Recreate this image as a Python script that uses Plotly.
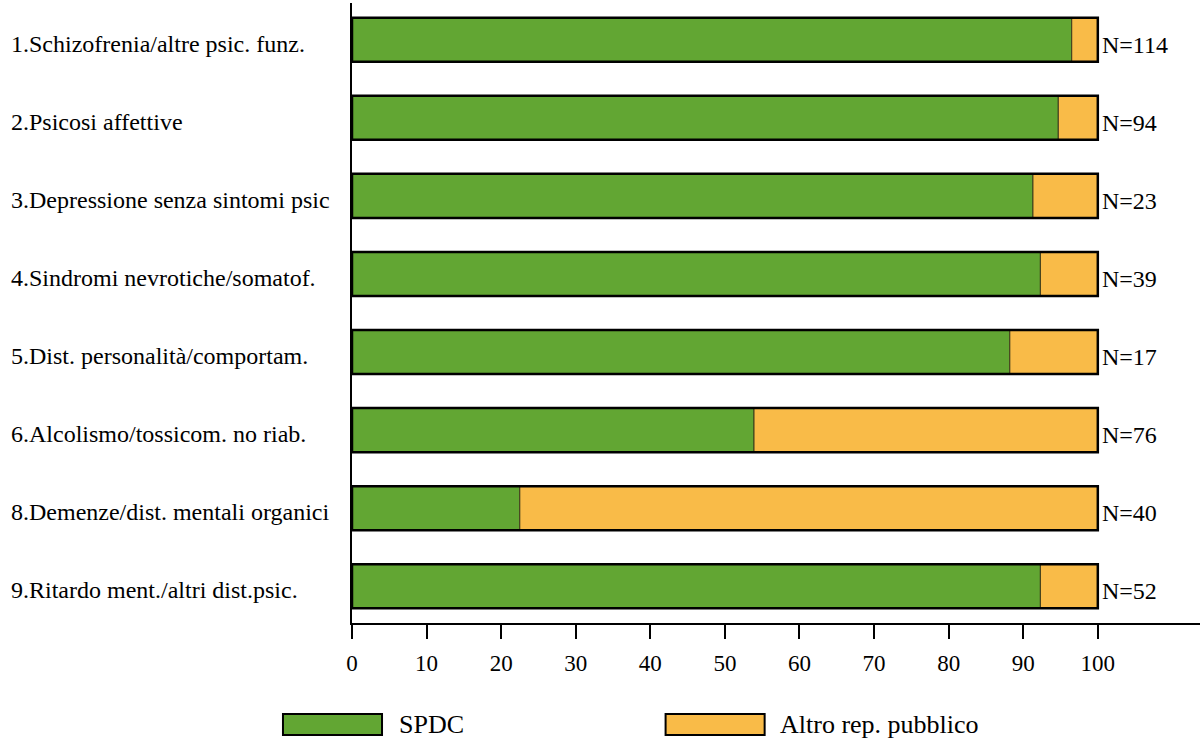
import plotly.graph_objects as go

categories = [
    "1.Schizofrenia/altre psic. funz.",
    "2.Psicosi affettive",
    "3.Depressione senza sintomi psic",
    "4.Sindromi nevrotiche/somatof.",
    "5.Dist. personalità/comportam.",
    "6.Alcolismo/tossicom. no riab.",
    "8.Demenze/dist. mentali organici",
    "9.Ritardo ment./altri dist.psic.",
]
spdc = [96.5, 94.7, 91.3, 92.3, 88.2, 53.9, 22.5, 92.3]
altro = [3.5, 5.3, 8.7, 7.7, 11.8, 46.1, 77.5, 7.7]
n_labels = ["N=114", "N=94", "N=23", "N=39", "N=17", "N=76", "N=40", "N=52"]
x_ticks = [0, 10, 20, 30, 40, 50, 60, 70, 80, 90, 100]
series_names = ["SPDC", "Altro rep. pubblico"]

GREEN = "#62A633"
ORANGE = "#F9BB48"
FONT = "Liberation Serif, Times New Roman, serif"
BAR_W = 0.565

totals = [a + b for a, b in zip(spdc, altro)]

fig = go.Figure()
fig.add_trace(go.Bar(
    y=categories, x=spdc, base=[0] * len(spdc), orientation="h",
    name=series_names[0], width=BAR_W,
    marker=dict(color=GREEN, line=dict(color="#3a3a1a", width=1)),
    showlegend=False,
))
fig.add_trace(go.Bar(
    y=categories, x=altro, base=spdc, orientation="h",
    name=series_names[1], width=BAR_W,
    marker=dict(color=ORANGE, line=dict(color="#3a3a1a", width=1)),
    showlegend=False,
))
# outer outline of each stacked bar
fig.add_trace(go.Bar(
    y=categories, x=totals, base=[0] * len(totals), orientation="h",
    width=BAR_W, hoverinfo="skip",
    marker=dict(color="rgba(0,0,0,0)", line=dict(color="black", width=2.5)),
    showlegend=False,
))

annotations = []
for cat, lab, tot in zip(categories, n_labels, totals):
    annotations.append(dict(
        x=tot, y=cat, xref="x", yref="y", text=lab, showarrow=False,
        xanchor="left", yanchor="middle", xshift=2, yshift=-5,
        font=dict(family=FONT, size=24, color="black"),
    ))
    annotations.append(dict(
        x=0, y=cat, xref="paper", yref="y", text=cat, showarrow=False,
        xanchor="left", yanchor="middle", xshift=-343, yshift=-4,
        font=dict(family=FONT, size=24, color="black"),
    ))

# custom legend
shapes = []
leg = [
    (-0.0814, 0.0354, GREEN, 0.0578, series_names[0]),
    (0.3698, 0.4866, ORANGE, 0.507, series_names[1]),
]
for x0, x1, col, tx, name in leg:
    shapes.append(dict(type="rect", xref="paper", yref="paper",
                       x0=x0, x1=x1, y0=-0.1806, y1=-0.1468,
                       fillcolor=col, line=dict(color="black", width=2)))
    annotations.append(dict(x=tx, y=-0.1637, xref="paper", yref="paper",
                            text=name, showarrow=False, xanchor="left",
                            yanchor="middle", xshift=-4,
                            font=dict(family=FONT, size=26, color="black")))

fig.update_layout(
    width=1201, height=740,
    margin=dict(l=352, r=1, t=3, b=117),
    barmode="overlay",
    plot_bgcolor="white", paper_bgcolor="white",
    font=dict(family=FONT, size=24, color="black"),
    annotations=annotations, shapes=shapes,
    showlegend=False,
)
fig.update_xaxes(
    range=[0, 113.7], tickvals=x_ticks, ticktext=[str(t) for t in x_ticks],
    showline=True, linecolor="black", linewidth=2,
    ticks="outside", ticklen=14, tickwidth=2, tickcolor="black",
    ticklabelstandoff=4,
    showgrid=False, zeroline=False,
    tickfont=dict(family=FONT, size=23, color="black"),
)
fig.update_yaxes(
    categoryorder="array", categoryarray=categories,
    range=[7.47, -0.47], showticklabels=False,
    showline=True, linecolor="black", linewidth=2,
    showgrid=False, zeroline=False, ticks="",
)

fig.write_html(
    "out.html",
    config={"displayModeBar": False},
    post_script="document.body.style.margin='0px';document.body.style.overflow='hidden';",
)
